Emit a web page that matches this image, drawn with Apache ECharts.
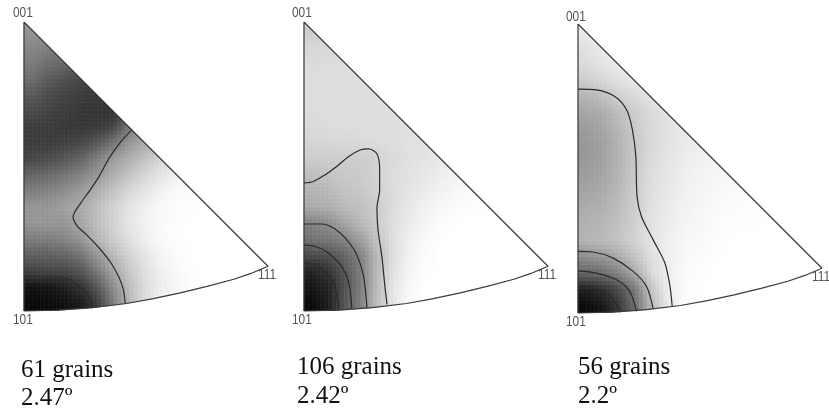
<!DOCTYPE html>
<html><head><meta charset="utf-8">
<style>html,body{margin:0;padding:0;background:#fff}#c{width:829px;height:413px}</style>
<script src="https://cdn.jsdelivr.net/npm/echarts@6/dist/echarts.min.js"></script>
</head><body><div id="c"></div>
<script>
// Grey level per cell (0 black, 255 white); rows run from the 101 corner upward, columns from the 001-101 edge rightward.
const grey61 = [
[10,12,16,28,60,125,185,225,245,252],
[18,20,30,50,85,140,190,220,238,248,254,255,255,255],
[65,68,70,85,120,165,200,225,240,250,254,255,255,255,255],
[95,95,100,115,150,185,210,230,245,252,255,255,255,255,255],
[125,125,130,150,180,205,225,240,250,254,255,255,255,255,255],
[150,150,150,165,190,210,230,243,250,254,255,255,255,255],
[150,150,160,170,190,210,228,240,250,253,254,255,255],
[125,130,140,155,175,195,215,230,243,250,252,254],
[100,105,115,130,150,175,195,215,230,240,245],
[70,75,85,100,125,155,175,195,215,225],
[60,60,62,70,85,115,150,170,190],
[60,58,55,55,55,65,120,150],
[75,65,60,55,50,50,60],
[90,75,65,60,55,55],
[110,90,80,70,65],
[125,110,105,95],
[135,130,120],
[150,140]];
const grey106 = [
[10,30,85,130,190,232,250,255,255,255],
[20,35,80,125,188,230,248,255,255,255,255,255,255,255],
[35,50,85,125,185,225,245,254,255,255,255,255,255,255,255],
[75,80,100,130,185,222,242,252,255,255,255,255,255,255,255],
[115,120,130,160,195,222,240,250,255,255,255,255,255,255,255],
[130,140,165,185,203,222,236,246,252,255,255,255,255,255],
[170,175,185,192,205,220,232,242,248,252,253,253,253],
[180,185,195,200,208,220,228,236,242,248,250,250],
[190,195,200,203,210,220,226,232,238,242,244],
[205,205,205,205,210,218,224,228,232,236],
[212,214,216,217,220,222,224,226,230],
[218,220,222,222,222,222,224,226],
[220,222,222,222,222,222,222],
[222,222,222,222,222,222],
[222,222,222,222,222],
[218,220,220,220],
[215,215,215],
[205,210]];
const grey56 = [
[12,22,55,110,185,232,250,255,255,255],
[32,45,75,120,195,235,250,255,255,255,255,255,255,255],
[100,110,130,170,215,238,250,254,255,255,255,255,255,255,255],
[140,150,168,195,222,238,248,252,254,255,255,255,255,255,255],
[180,185,195,210,228,238,246,250,253,255,255,255,255,255,255],
[178,182,192,208,226,236,244,248,252,254,254,255,255,255],
[172,176,188,206,224,234,242,247,250,252,253,253,253],
[165,170,184,204,222,232,240,245,248,250,252,252],
[157,165,180,202,220,230,238,243,246,248,250],
[152,160,178,200,218,228,236,241,244,246],
[150,160,178,200,216,226,234,238,240],
[155,165,182,202,216,226,232,236],
[165,172,188,205,218,226,230],
[180,190,205,218,226,230],
[205,215,225,232,234],
[218,228,234,236],
[225,235,238],
[235,238]];
// Outline of the standard triangle: 001 -> 111 -> arc -> 101 (u across, v up).
const outline = [[0,1],[1,.155],[.93,.13],[.86,.11],[.75,.085],[.64,.063],[.53,.043],[.42,.026],[.28,.0115],[.14,.003],[0,0]];
// Contours.
const contours61 = [
 [[.441,.626],[.397,.586],[.349,.529],[.308,.466],[.267,.414],[.233,.374],[.201,.325],[.219,.293],[.26,.261],[.308,.218],[.356,.167],[.39,.115],[.407,.075],[.415,.026]],
 [[0,.1],[.062,.106],[.13,.115],[.185,.111],[.233,.08],[.267,.052],[.278,.011]]];
const contours106 = [
 [[0,.443],[.038,.448],[.086,.471],[.134,.5],[.182,.534],[.23,.557],[.264,.561],[.299,.544],[.31,.489],[.31,.42],[.299,.356],[.303,.282],[.319,.189],[.33,.098],[.34,.023]],
 [[0,.301],[.073,.301],[.127,.284],[.175,.247],[.216,.195],[.244,.121],[.258,.011]],
 [[0,.228],[.045,.224],[.1,.201],[.148,.161],[.182,.103],[.196,.009]],
 [[0,.167],[.045,.161],[.093,.132],[.127,.086],[.141,.006]]];
const contours56 = [
 [[0,.775],[.075,.772],[.151,.749],[.199,.703],[.223,.634],[.237,.541],[.242,.403],[.26,.334],[.308,.253],[.356,.173],[.377,.092],[.386,.023]],
 [[0,.213],[.062,.211],[.144,.19],[.226,.144],[.281,.092],[.308,.014]],
 [[0,.146],[.075,.138],[.158,.115],[.212,.075],[.24,.006]],
 [[0,.09],[.062,.086],[.123,.063],[.164,.023],[.174,.002]]];
const captions = [["61 grains","2.47º"],["106 grains","2.42º"],["56 grains","2.2º"]];
const cornerLabels = ["001","101","111"];

const ROWS = 18, COLS = 15, SUB = 4;
const layouts = [
 {left:24,top:22,cap:[21,358,21,386],c:[[13,6],[13,313],[258,268]]},
 {left:304,top:22,cap:[297,355,297,384],c:[[292,6],[292,313],[538,268]]},
 {left:578,top:24,cap:[578,355,578,384],c:[[566,10],[566,315],[812,270]]}
];
const panels = [[grey61,contours61],[grey106,contours106],[grey56,contours56]];

function clip(poly, edge){ // Sutherland-Hodgman against the convex outline
  let out = poly;
  for (let i=0;i<edge.length;i++){
    const a=edge[i], b=edge[(i+1)%edge.length], inp=out; out=[];
    const side=p=>(b[0]-a[0])*(p[1]-a[1])-(b[1]-a[1])*(p[0]-a[0]);
    for(let k=0;k<inp.length;k++){
      const p=inp[k], q=inp[(k+1)%inp.length], sp=side(p), sq=side(q);
      if(sp<=0) out.push(p);
      if((sp<0&&sq>0)||(sp>0&&sq<0)){const t=sp/(sp-sq); out.push([p[0]+t*(q[0]-p[0]),p[1]+t*(q[1]-p[1])]);}
    }
    if(!out.length) return out;
  }
  return out;
}
// Shade between the read cell values when painting (display only; the arrays stay as read).
function shade(grey,u,v){
  const y=Math.max(0,Math.min(ROWS-1,v*ROWS-.5)), x=Math.max(0,Math.min(COLS-1,u*COLS-.5));
  const r0=Math.floor(y), r1=Math.min(ROWS-1,r0+1), c0=Math.floor(x), c1=Math.min(COLS-1,c0+1), fy=y-r0, fx=x-c0;
  const at=(r,c)=>grey[r][Math.min(c,grey[r].length-1)];
  return Math.round((at(r0,c0)*(1-fx)+at(r0,c1)*fx)*(1-fy)+(at(r1,c0)*(1-fx)+at(r1,c1)*fx)*fy);
}
const grid=[],xAxis=[],yAxis=[],series=[],graphic=[];
panels.forEach(([grey,cont],n)=>{
  const L=layouts[n];
  grid.push({left:L.left,top:L.top,width:244,height:289});
  xAxis.push({type:'value',gridIndex:n,min:0,max:1,show:false});
  yAxis.push({type:'value',gridIndex:n,min:0,max:1,show:false});
  const data=[];
  grey.forEach((row,r)=>row.forEach((g,c)=>data.push([c,r,g])));
  series.push({type:'custom',xAxisIndex:n,yAxisIndex:n,silent:true,animation:false,z:1,
    encode:{x:0,y:1},data,
    renderItem(params,api){
      const c=api.value(0),r=api.value(1),children=[];
      for(let i=0;i<SUB;i++)for(let j=0;j<SUB;j++){
        const u0=(c+i/SUB)/COLS,u1=(c+(i+1)/SUB)/COLS,v0=(r+j/SUB)/ROWS,v1=(r+(j+1)/SUB)/ROWS;
        const pts=clip([[u0,v0],[u1,v0],[u1,v1],[u0,v1]],outline);
        if(pts.length<3) continue;
        const g=shade(grey,(u0+u1)/2,(v0+v1)/2), col=`rgb(${g},${g},${g})`;
        children.push({type:'polygon',shape:{points:pts.map(p=>api.coord(p))},style:{fill:col,stroke:col,lineWidth:.6}});
      }
      return {type:'group',children};
    }});
  cont.forEach(line=>series.push({type:'line',xAxisIndex:n,yAxisIndex:n,data:line,smooth:.3,showSymbol:false,silent:true,animation:false,z:3,
    lineStyle:{color:'#2a2a2a',width:1.2}}));
  series.push({type:'line',xAxisIndex:n,yAxisIndex:n,data:outline.concat([outline[0]]),showSymbol:false,silent:true,animation:false,z:4,
    lineStyle:{color:'#3a3a3a',width:1.2}});
  cornerLabels.forEach((t,i)=>graphic.push({type:'text',x:L.c[i][0],y:L.c[i][1],scaleX:.85,
    style:{text:t,fontFamily:'"Liberation Sans",sans-serif',fontSize:14,fill:'#555'}}));
  captions[n].forEach((t,i)=>graphic.push({type:'text',x:L.cap[i*2],y:L.cap[i*2+1],
    style:{text:t,fontFamily:'"Liberation Serif",serif',fontSize:25,fill:'#111'}}));
});
const chart=echarts.init(document.getElementById('c'),null,{renderer:'canvas'});
chart.setOption({animation:false,backgroundColor:'#fff',grid,xAxis,yAxis,series,graphic});
</script></body></html>
